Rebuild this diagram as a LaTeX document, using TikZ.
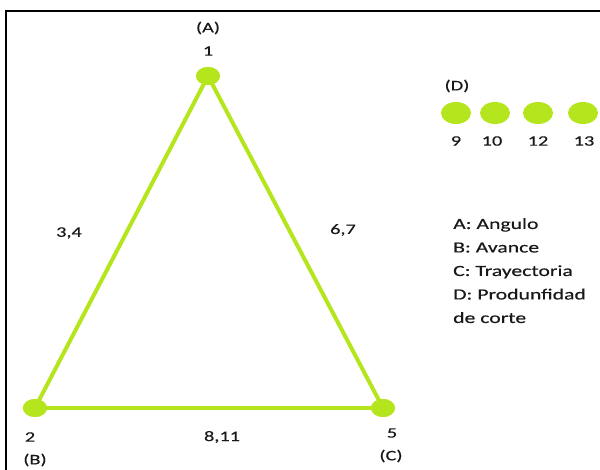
\documentclass[tikz,border=0pt]{standalone}
\usepackage{fontspec}
\setmainfont[FakeStretch=1.4,FakeBold=0.4]{Carlito}
\usetikzlibrary{shapes.geometric}
\definecolor{lime}{RGB}{181,230,29}
\begin{document}
\begin{tikzpicture}[x=1pt,y=-1pt,
  vert/.style={ellipse,fill=lime,minimum width=24pt,minimum height=18pt,inner sep=0pt},
  dot/.style={ellipse,fill=lime,minimum width=30pt,minimum height=22pt,inner sep=0pt},
  edge/.style={draw=lime,line width=4pt},
  lbl/.style={font=\fontsize{14.5}{17}\selectfont,text=black!90,inner sep=0pt}]
\useasboundingbox (0,0) rectangle (600,470);
\draw[line width=1.5pt] (6,11) rectangle (610,480);
\node[vert] (n1) at (208,76) {};
\node[vert] (n2) at (35,408) {};
\node[vert] (n5) at (383,408) {};
\draw[edge] (n1.center) -- (n2.center);
\draw[edge] (n1.center) -- (n5.center);
\draw[edge] (n2.center) -- (n5.center);
\node[vert] at (n1) {};
\node[vert] at (n2) {};
\node[vert] at (n5) {};
\node[lbl] (tA) at (208,28) {(A)};
\node[lbl] (t1) at (208,51) {1};
\node[lbl] (t2) at (30,437) {2};
\node[lbl] (tB) at (35,460) {(B)};
\node[lbl] (t5) at (392,433) {5};
\node[lbl] (tC) at (391,456) {(C)};
\node[lbl] (e811) at (222,437) {8,11};
\node[lbl] (e34) at (69,233) {3,4};
\node[lbl] (e67) at (343,230) {6,7};
\node[lbl] (tD) at (457,86) {(D)};
\node[dot] (d9) at (456,113) {};
\node[dot] (d10) at (495,113) {};
\node[dot] (d12) at (538,113) {};
\node[dot] (d13) at (583,113) {};
\node[lbl] (t9) at (456,141) {9};
\node[lbl] (t10) at (492,141) {10};
\node[lbl] (t12) at (538,141) {12};
\node[lbl] (t13) at (584,141) {13};
\node[lbl,anchor=north west,align=left,font=\fontsize{15.5}{23.5}\selectfont] (leg) at (453,218)
  {A: Angulo\\B: Avance\\C: Trayectoria\\D: Produnfidad\\de corte};
\end{tikzpicture}
\end{document}
